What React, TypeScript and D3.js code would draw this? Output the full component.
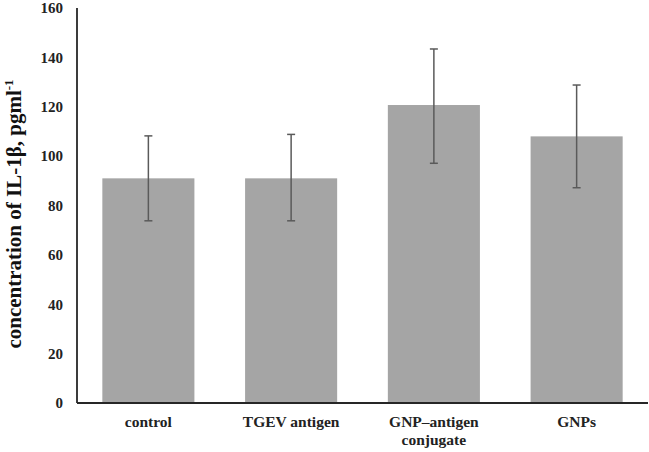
import React, { useEffect, useRef } from "react";
import * as d3 from "d3";

const categories = ["control", "TGEV antigen", "GNP–antigen conjugate", "GNPs"];
const labelLines = [["control"], ["TGEV antigen"], ["GNP–antigen", "conjugate"], ["GNPs"]];
const values = [91, 91, 120.7, 108];
const errLow = [73.8, 73.8, 97.1, 87.2];
const errHigh = [108.2, 108.8, 143.4, 128.8];
const yTicks = [0, 20, 40, 60, 80, 100, 120, 140, 160];

const App = () => {
  const ref = useRef<SVGSVGElement>(null);

  useEffect(() => {
    const svg = d3.select(ref.current);
    svg.selectAll("*").remove();

    const width = 649;
    const height = 452;
    const left = 77;
    const right = 648;
    const top = 8;
    const bottom = 403;
    const font = "'Liberation Serif', 'Times New Roman', serif";

    const x = d3.scaleBand<string>()
      .domain(categories)
      .range([left, right])
      .paddingInner(0.355)
      .paddingOuter(0.1775);
    const y = d3.scaleLinear().domain([0, 160]).range([bottom, top]);

    svg.attr("width", width).attr("height", height);

    // bars
    svg.append("g")
      .selectAll("rect")
      .data(categories)
      .join("rect")
      .attr("x", d => x(d)!)
      .attr("y", (d, i) => y(values[i]))
      .attr("width", x.bandwidth())
      .attr("height", (d, i) => y(0) - y(values[i]))
      .attr("fill", "#a5a5a5");

    // error bars
    const err = svg.append("g")
      .attr("stroke", "#5a5a5a")
      .attr("stroke-width", 1.5);
    categories.forEach((c, i) => {
      const cx = x(c)! + x.bandwidth() / 2;
      err.append("line")
        .attr("x1", cx).attr("x2", cx)
        .attr("y1", y(errHigh[i])).attr("y2", y(errLow[i]));
      [errHigh[i], errLow[i]].forEach(v => {
        err.append("line")
          .attr("x1", cx - 4).attr("x2", cx + 4)
          .attr("y1", y(v)).attr("y2", y(v));
      });
    });

    // axes lines
    svg.append("line")
      .attr("x1", left).attr("x2", left)
      .attr("y1", top).attr("y2", bottom)
      .attr("stroke", "#262626").attr("stroke-width", 1.8);
    svg.append("line")
      .attr("x1", left).attr("x2", right)
      .attr("y1", bottom).attr("y2", bottom)
      .attr("stroke", "#262626").attr("stroke-width", 1.8);

    // y tick labels
    svg.append("g")
      .selectAll("text")
      .data(yTicks)
      .join("text")
      .attr("x", 63)
      .attr("y", d => y(d))
      .attr("dy", "0.35em")
      .attr("text-anchor", "end")
      .attr("font-family", font)
      .attr("font-weight", "bold")
      .attr("font-size", 15)
      .attr("fill", "#222")
      .text(d => d);

    // x labels
    categories.forEach((c, i) => {
      const cx = x(c)! + x.bandwidth() / 2;
      const t = svg.append("text")
        .attr("x", cx)
        .attr("y", 427)
        .attr("text-anchor", "middle")
        .attr("font-family", font)
        .attr("font-weight", "bold")
        .attr("font-size", 15.5)
        .attr("fill", "#222");
      labelLines[i].forEach((line, j) => {
        t.append("tspan")
          .attr("x", cx)
          .attr("dy", j === 0 ? 0 : 18)
          .text(line);
      });
    });

    // y axis title
    const yt = svg.append("text")
      .attr("transform", "translate(21,214) rotate(-90)")
      .attr("text-anchor", "middle")
      .attr("font-family", font)
      .attr("font-weight", "bold")
      .attr("font-size", 21)
      .attr("fill", "#111");
    yt.append("tspan").text("concentration of IL-1β, pgml");
    yt.append("tspan").attr("dy", -8).attr("font-size", 13).text("-1");
  }, []);

  return <svg ref={ref} style={{ position: "absolute", left: 0, top: 0 }} />;
};

export default App;
